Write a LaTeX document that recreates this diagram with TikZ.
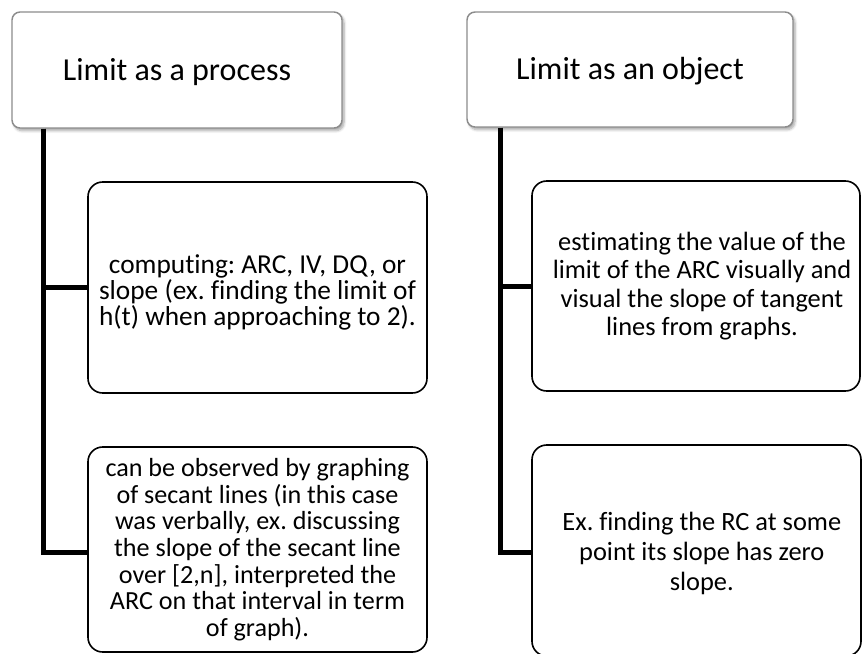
\documentclass[tikz,border=0pt]{standalone}
\usepackage{fontspec}
\setmainfont{Carlito}[Ligatures=NoCommon]
\usetikzlibrary{shadows.blur}

\newcommand{\itemfont}[2]{\fontsize{#1}{#2}\selectfont\lineskiplimit=-30pt}

\tikzset{
  hdrbox/.style={draw=black!45, line width=1.1pt, fill=white, rounded corners=6pt,
    blur shadow={shadow xshift=1.5pt, shadow yshift=-2pt, shadow blur steps=6, shadow opacity=35},
    inner sep=0pt, text height=19pt, text depth=4pt,
    font=\fontsize{24}{28}\selectfont},
  itembox/.style={draw=black, line width=1.2pt, fill=white, rounded corners=11pt, inner sep=0pt},
  itemtext/.style={align=center, inner sep=0pt},
  branch/.style={draw=black, line width=3.75pt}
}

\begin{document}
\frenchspacing
\begin{tikzpicture}[x=0.75pt, y=-0.75pt]
  \useasboundingbox (0,0) rectangle (862,653);

  % column headers
  \node[hdrbox, minimum width=247.5pt, minimum height=87pt] (h1) at (177,70) {Limit as a process};
  \node[hdrbox, minimum width=244.5pt, minimum height=86.25pt] (h2) at (630,69.5) {Limit as an object};

  % branch start points below each header
  \coordinate (t1) at ([xshift=24pt]h1.south west);
  \coordinate (t2) at ([xshift=25.5pt]h2.south west);

  % branches (drawn first so the boxes sit on top)
  \draw[branch] (t1) |- (257.5,287.5);
  \draw[branch] (t1) |- (257.5,552);
  \draw[branch] (t2) |- (696,286);
  \draw[branch] (t2) |- (696,552);

  % items of the left column
  \node[itembox, minimum width=254.25pt, minimum height=158.25pt,
    label={[itemtext, font=\itemfont{20.5}{19.5}, yshift=-4pt]center:{computing: ARC, IV, DQ, or\\slope (ex. finding the limit of\\h(t) when approaching to 2).}}]
    (c1) at (257.5,287.5) {};
  \node[itembox, minimum width=254.25pt, minimum height=153.75pt,
    label={[itemtext, font=\itemfont{19.6}{20}]center:{can be observed by graphing\\of secant lines (in this case\\was verbally, ex. discussing\\the slope of the secant line\\over [2,n], interpreted the\\ARC on that interval in term\\of graph).}}]
    (c2) at (257.5,549.5) {};

  % items of the right column
  \node[itembox, minimum width=246pt, minimum height=157.5pt,
    label={[itemtext, font=\itemfont{19.8}{21.2}, xshift=4.5pt]center:{estimating the value of the\\limit of the ARC visually and\\visual the slope of tangent\\lines from graphs.}}]
    (c3) at (696,286) {};
  \node[itembox, minimum width=246.75pt, minimum height=158.25pt,
    label={[itemtext, font=\itemfont{19.8}{22.5}, xshift=4pt, yshift=-2pt]center:{Ex. finding the RC at some\\point its slope has zero\\slope.}}]
    (c4) at (696.5,550.5) {};
\end{tikzpicture}
\end{document}
